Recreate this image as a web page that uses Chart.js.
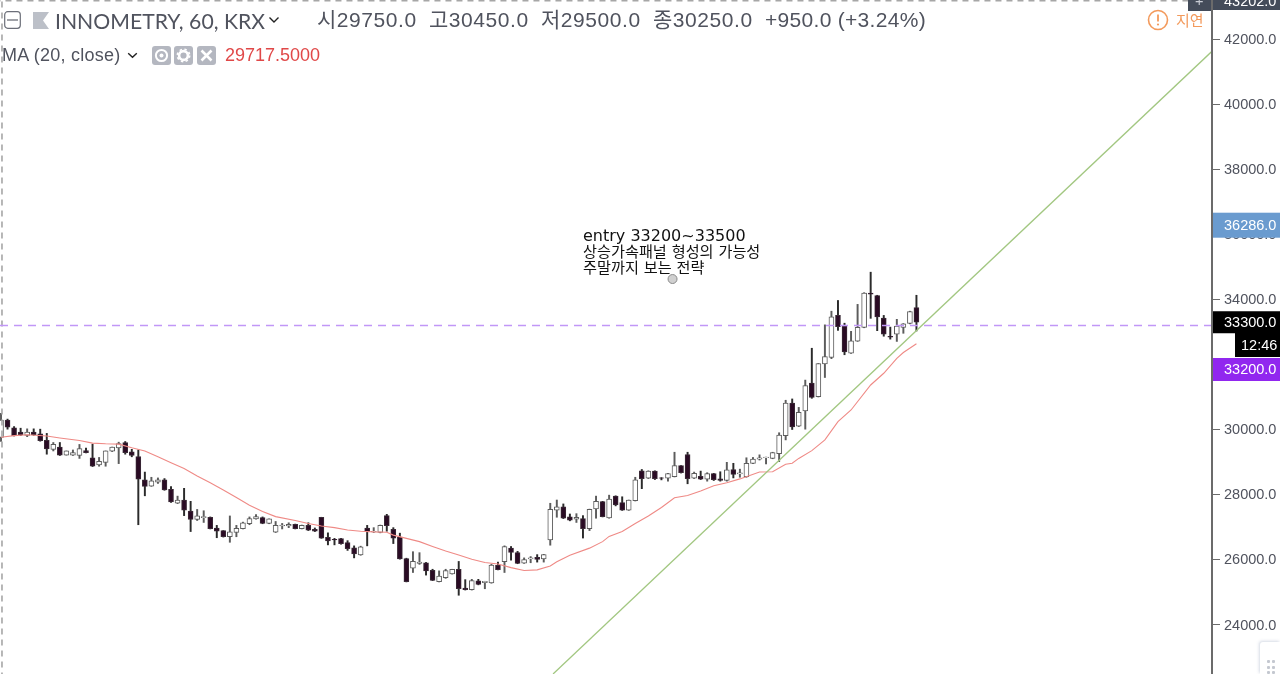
<!DOCTYPE html>
<html>
<head>
<meta charset="utf-8">
<title>INNOMETRY, 60, KRX</title>
<script src="https://cdn.jsdelivr.net/npm/chart.js@4"></script>
<style>
  html, body { margin: 0; padding: 0; background: #fff; overflow: hidden; }
  #wrap { position: relative; width: 1280px; height: 674px; overflow: hidden; font-family: "Liberation Sans", "Noto Sans CJK KR", sans-serif; }
  #graph { position: absolute; left: 0; top: 0; }
  .txt { position: absolute; white-space: nowrap; color: #50535e; }
  .ohlc { top: 7px; font-size: 21px; line-height: 26px; letter-spacing: .55px; }
  .note { left: 583px; line-height: 18px; color: #111; font-family: "DejaVu Sans", "Noto Sans CJK KR", sans-serif; }
  .btn { position: absolute; top: 46px; width: 19px; height: 19px; background: #b4b7c0; border-radius: 3px; }
  .btn svg { display: block; }
  #grip { position: absolute; left: 1260px; top: 642px; width: 20px; height: 32px; background-color: #fff; box-shadow: -1px -1px 3px rgba(90,110,150,.25); border-radius: 3px 0 0 0; }
  #grip i { position: absolute; width: 3px; height: 3px; background: #c4c8d0; border-radius: 1px; }
</style>
</head>
<body>
<div id="wrap">
  <canvas id="graph" width="1280" height="674"></canvas>

  <svg style="position:absolute;left:4px;top:11px" width="17" height="18"><rect x="0.7" y="0.7" width="15.6" height="16.6" rx="3" fill="none" stroke="#6b6e78" stroke-width="1.2"/><line x1="3" x2="14" y1="9" y2="9" stroke="#6b6e78" stroke-width="1.3"/></svg>
  <svg style="position:absolute;left:33px;top:12px" width="16" height="17"><path d="M0 0H16L10 8.5L16 17H0Z" fill="#bcc0c8"/></svg>
  <div class="txt" style="left:55px;top:7px;font-size:21.2px;line-height:28px;font-family:Lato,sans-serif">INNOMETRY, 60, KRX</div>
  <svg style="position:absolute;left:268px;top:16px" width="12" height="8"><path d="M1.5 1.5L6 6L10.5 1.5" fill="none" stroke="#222" stroke-width="1.4"/></svg>

  <div class="txt ohlc" style="left:317px">시29750.0</div>
  <div class="txt ohlc" style="left:429px">고30450.0</div>
  <div class="txt ohlc" style="left:541px">저29500.0</div>
  <div class="txt ohlc" style="left:653px">종30250.0</div>
  <div class="txt ohlc" style="left:765px;letter-spacing:.3px">+950.0 (+3.24%)</div>

  <svg style="position:absolute;left:1147px;top:9px" width="22" height="22"><circle cx="11" cy="11" r="9.5" fill="none" stroke="#f39a5c" stroke-width="1.6"/><line x1="11" x2="11" y1="5.5" y2="12.5" stroke="#f39a5c" stroke-width="1.8"/><circle cx="11" cy="15.5" r="1.1" fill="#f39a5c"/></svg>
  <div class="txt" style="left:1176px;top:9px;font-size:15px;color:#f39a5c">지연</div>

  <div class="txt" style="left:2px;top:45px;font-size:18px;letter-spacing:.25px">MA (20, close)</div>
  <svg style="position:absolute;left:127px;top:52px" width="11" height="7"><path d="M1.2 1.2L5.5 5.2L9.8 1.2" fill="none" stroke="#222" stroke-width="1.4"/></svg>
  <div class="btn" style="left:152px"><svg width="19" height="19"><circle cx="9.5" cy="9.5" r="5.6" fill="none" stroke="#fff" stroke-width="2"/><circle cx="9.5" cy="9.5" r="2" fill="#fff"/></svg></div>
  <div class="btn" style="left:174px"><svg width="19" height="19"><circle cx="9.5" cy="9.5" r="4.4" fill="none" stroke="#fff" stroke-width="2.6"/><circle cx="9.5" cy="9.5" r="6.2" fill="none" stroke="#fff" stroke-width="1.6" stroke-dasharray="2.4 2.5"/></svg></div>
  <div class="btn" style="left:197px"><svg width="19" height="19"><path d="M4.5 4.5L14.5 14.5M14.5 4.5L4.5 14.5" stroke="#fff" stroke-width="2.6"/></svg></div>
  <div class="txt" style="left:225px;top:45px;font-size:18px;color:#e04848">29717.5000</div>

  <div class="txt note" style="top:227px;font-size:16px">entry 33200~33500</div>
  <div class="txt note" style="top:243px;font-size:15.2px">상승가속패널 형성의 가능성</div>
  <div class="txt note" style="top:259px;font-size:15.2px">주말까지 보는 전략</div>

  <div id="grip">
    <i style="left:7px;top:18px"></i><i style="left:12px;top:18px"></i>
    <i style="left:7px;top:24px"></i><i style="left:12px;top:24px"></i>
    <i style="left:7px;top:29px"></i><i style="left:12px;top:29px"></i>
  </div>
</div>

<script>
const highs = [
  30500,30320,30090,30040,30020,30020,30010,29880,29600,29600,
  29340,29370,29540,29430,29550,29140,29340,29460,29610,29630,
  29390,29370,28690,28530,28510,28490,28240,27950,28190,27790,
  27540,27500,27310,27050,26890,27340,27050,27150,27310,27380,
  27310,27250,27170,27110,27130,27090,27060,27130,26970,27300,
  26820,26650,26650,26580,26420,26410,27050,26980,27060,27390,
  26980,26810,26040,26240,26210,25910,25700,25650,25700,25700,
  25940,25380,25390,25390,25330,25850,25920,26420,26400,26250,
  26050,26090,26150,26160,27730,27830,27710,27400,27410,27350,
  27550,27950,27790,27980,27960,27930,27830,28530,28770,28730,
  28730,28520,28650,29300,28890,29300,28690,28720,28670,28650,
  28700,28990,28960,28780,29130,29140,29220,29150,29300,29900,
  30900,30940,30680,31520,32500,32030,33220,33640,33970,33270,
  33020,33850,34210,34840,34130,33510,33150,33390,33260,33640,34130
];
const lows = [
  29630,30010,29800,29810,29780,29820,29640,29240,29340,29200,
  29210,29200,29110,29280,28860,28870,28870,29320,28950,29240,
  29160,27070,27960,28250,28340,28130,27760,27720,27350,26860,
  27200,27140,26940,26670,26690,26530,26700,26940,27070,27240,
  27100,27100,26830,26940,26980,26940,26940,26890,26860,26650,
  26450,26450,26470,26280,26050,26130,26420,26830,26820,26870,
  26490,26010,25310,25600,25850,25520,25350,25310,25420,25550,
  24900,25060,25060,25220,25100,25270,25680,25600,25980,25870,
  25880,25900,25920,25920,26440,27300,27260,27190,27140,26660,
  26890,27270,27310,27270,27650,27510,27510,27800,28180,28490,
  28460,28450,28410,28540,28660,28330,28490,28460,28410,28430,
  28410,28410,28510,28530,28530,28950,29060,28940,29100,29010,
  29680,30000,30090,30010,30960,31000,31600,32180,33050,32300,
  32340,32710,33130,33420,33040,32870,32780,32710,32960,33250,33030
];
const opens = [
  29760,30290,30050,29920,29820,29920,29870,29670,29390,29460,
  29210,29210,29200,29350,29130,28910,28990,29330,29430,29600,
  29310,29170,28450,28260,28380,28450,28160,27730,27830,27490,
  27230,27290,27300,26970,26890,26700,26830,26950,27100,27250,
  27290,27110,26840,27030,27030,27080,26950,27050,26930,27300,
  26680,26620,26640,26520,26360,26140,26970,26850,26830,27350,
  26930,26690,26030,25730,25880,25900,25670,25320,25440,25560,
  25700,25120,25070,25340,25290,25280,25820,25930,26350,26210,
  25890,26020,26070,26020,26600,27520,27620,27310,27240,27260,
  26950,27560,27780,27280,27950,27750,27520,27810,28730,28500,
  28720,28510,28500,28550,28890,29230,28500,28560,28470,28640,
  28480,28430,28770,28630,28550,28960,29090,29130,29110,29260,
  29810,30810,30100,30570,31430,31010,32020,32220,33510,33180,
  32350,32720,33140,34200,34120,33430,32870,32930,33140,33260,33750
];
const closes = [
  30290,30070,29810,29830,29920,29840,29660,29400,29540,29210,
  29340,29290,29410,29290,28870,29020,29340,29460,29570,29290,
  29200,28470,28250,28420,28450,28140,27770,27830,27520,27230,
  27340,27320,26950,26870,26700,26850,26960,27130,27260,27320,
  27110,27250,27050,27060,27080,26950,27050,26900,26870,26660,
  26570,26600,26490,26330,26170,26390,26860,26870,27050,27040,
  26660,26020,25320,25940,25920,25650,25360,25490,25660,25700,
  25100,25070,25350,25230,25330,25830,25690,26400,26220,25880,
  26000,26050,26000,26150,27540,27620,27270,27210,27300,26950,
  27540,27790,27320,27860,27680,27520,27830,28450,28490,28720,
  28490,28500,28640,28890,28670,28490,28650,28470,28640,28460,
  28430,28760,28620,28670,28960,29090,29130,29150,29290,29830,
  30810,30080,30530,31350,30990,32030,32240,33470,33160,32390,
  32730,33140,34200,34160,33460,32930,32840,33180,33250,33630,33300
];

const maBars = [0,2,4,7,9,12,14,16,18,20,22,24,26,28,30,32,34,36,38,40,42,45,47,49,51,53,55,57,59,60,62,64,66,68,70,72,74,76,78,80,82,84,85,87,90,92,93,95,97,99,101,103,105,107,109,111,113,116,118,120,121,122,124,126,128,130,133,135,137,138,140];
const maValues = [
  29760,29810,29840,29800,29740,29660,29580,29560,29550,29440,29340,29160,28980,28800,28570,28360,28140,27910,27670,27480,27320,
  27200,27110,27030,26980,26910,26870,26850,26840,26750,26650,26550,26400,26260,26140,26010,25910,25860,25750,25660,25680,25800,25930,
  26130,26350,26550,26710,26860,27110,27340,27600,27900,27970,28110,28270,28360,28480,28690,28700,28930,28960,29110,29350,29680,30240,30600,31370,31730,32190,32370,32640
];

const trendBars = [84.43, 185.2];
const trendPrices = [22480, 41640];
const orderLevel = 33200;
const anchorBar = 102.7;
const anchorPrice = 34630;
const crossBar = 0.15;
const crossPrice = 43190;

const yTicks = [24000,26000,28000,30000,32000,34000,36000,38000,40000,42000];
const priceTags = [
  { price: 36286, text: "36286.0", color: "#6a9bcf", fg: "#fff", h: 25 },
  { price: 33300, text: "33300.0", color: "#000", fg: "#fff", h: 22 }
];

const AXIS_FONT = '14.5px "Liberation Sans", sans-serif';

const bars = highs.map((h, i) => i);
const isUp = i => closes[i] >= opens[i];

// price boxes on the right axis
const axisTags = {
  id: "axisTags",
  afterDraw(c) {
    const ctx = c.ctx;
    const y = c.scales.y;
    const box = (x, w, cy, h, color, fg, text, tx) => {
      ctx.fillStyle = color;
      ctx.fillRect(x, cy - h / 2, w, h);
      ctx.fillStyle = fg;
      ctx.font = AXIS_FONT;
      ctx.textAlign = "left";
      ctx.textBaseline = "middle";
      ctx.fillText(text, tx, cy + 0.5);
    };
    priceTags.forEach(t => box(1212, 68, y.getPixelForValue(t.price), t.h, t.color, t.fg, t.text, 1224));
    box(1235, 45, 345, 24, "#000", "#fff", "12:46", 1241);
    box(1212, 68, y.getPixelForValue(orderLevel) + 44, 23, "#9127ef", "#fff", "33200.0", 1224);
    // top crosshair tag and the little + button beside it
    box(1212, 68, 1, 18, "#444c5a", "#fff", "43202.0", 1224);
    box(1188, 24, 1, 20, "#444c5a", "#c8ccd4", "+", 1195);
    ctx.strokeStyle = "#6b6b6b";
    ctx.lineWidth = 2;
    ctx.beginPath();
    ctx.moveTo(1212, 0);
    ctx.lineTo(1212, 674);
    ctx.stroke();
  }
};

new Chart(document.getElementById("graph").getContext("2d"), {
  type: "bar",
  data: {
    datasets: [
      {
        label: "wicks",
        order: 6,
        data: bars.map(i => ({ x: i, y: [lows[i], highs[i]] })),
        backgroundColor: bars.map(i => (isUp(i) ? "#5c5c5c" : "#2b2b2b")),
        barThickness: 1.3,
        borderWidth: 0,
        grouped: false
      },
      {
        label: "bodies",
        order: 5,
        data: bars.map(i => ({ x: i, y: [opens[i], closes[i]] })),
        backgroundColor: bars.map(i => (isUp(i) ? "#fff" : "#2a0b24")),
        borderColor: bars.map(i => (isUp(i) ? "#5c5c5c" : "#3a2a36")),
        borderWidth: 1,
        borderSkipped: false,
        barThickness: 5,
        grouped: false
      },
      {
        type: "line",
        label: "MA 20",
        order: 4,
        data: maBars.map((b, i) => ({ x: b, y: maValues[i] })),
        borderColor: "#ef8a86",
        borderWidth: 1.1,
        pointRadius: 0,
        tension: 0
      },
      {
        type: "line",
        label: "trend",
        order: 3,
        data: trendBars.map((b, i) => ({ x: b, y: trendPrices[i] })),
        borderColor: "#a2c781",
        borderWidth: 1.4,
        pointRadius: 0
      },
      {
        type: "line",
        label: "level",
        order: 2,
        data: [{ x: -0.153, y: orderLevel }, { x: 185.2, y: orderLevel }],
        borderColor: "#c197f7",
        borderWidth: 1.6,
        borderDash: [8, 6],
        pointRadius: 0
      },
      {
        type: "line",
        label: "cross v",
        order: 2,
        data: [{ x: crossBar, y: 22000 }, { x: crossBar, y: 44000 }],
        borderColor: "#a6a6a6",
        borderWidth: 1.6,
        borderDash: [6, 5],
        pointRadius: 0
      },
      {
        type: "line",
        label: "cross h",
        order: 2,
        data: [{ x: -1, y: crossPrice }, { x: 186, y: crossPrice }],
        borderColor: "#a6a6a6",
        borderWidth: 1.6,
        borderDash: [6, 5],
        pointRadius: 0
      },
      {
        type: "line",
        label: "anchor",
        order: 1,
        data: [{ x: anchorBar, y: anchorPrice }],
        pointRadius: 4.5,
        pointBackgroundColor: "#d0d0d0",
        pointBorderColor: "#8a8a8a",
        pointBorderWidth: 1,
        showLine: false
      }
    ]
  },
  options: {
    responsive: false,
    animation: false,
    layout: { padding: 0, autoPadding: false },
    plugins: { legend: { display: false }, tooltip: { enabled: false } },
    scales: {
      x: {
        type: "linear",
        display: false,
        offset: false,
        min: -0.153,
        max: 185.2,
        grid: { display: false }
      },
      y: {
        position: "right",
        min: 22477,
        max: 43215,
        afterFit(scale) {
          scale.width = 68;
          scale.paddingTop = 0;
          scale.paddingBottom = 0;
        },
        afterBuildTicks(scale) { scale.ticks = yTicks.map(v => ({ value: v })); },
        border: { color: "#6b6b6b", width: 2 },
        grid: { drawOnChartArea: false, drawTicks: true, tickLength: 8, tickColor: "#6b6b6b" },
        ticks: {
          padding: 4,
          labelOffset: 1,
          color: "#50535e",
          font: { family: '"Liberation Sans", sans-serif', size: 14.5 },
          callback: v => v.toFixed(1)
        }
      }
    }
  },
  plugins: [axisTags]
});
</script>
</body>
</html>
